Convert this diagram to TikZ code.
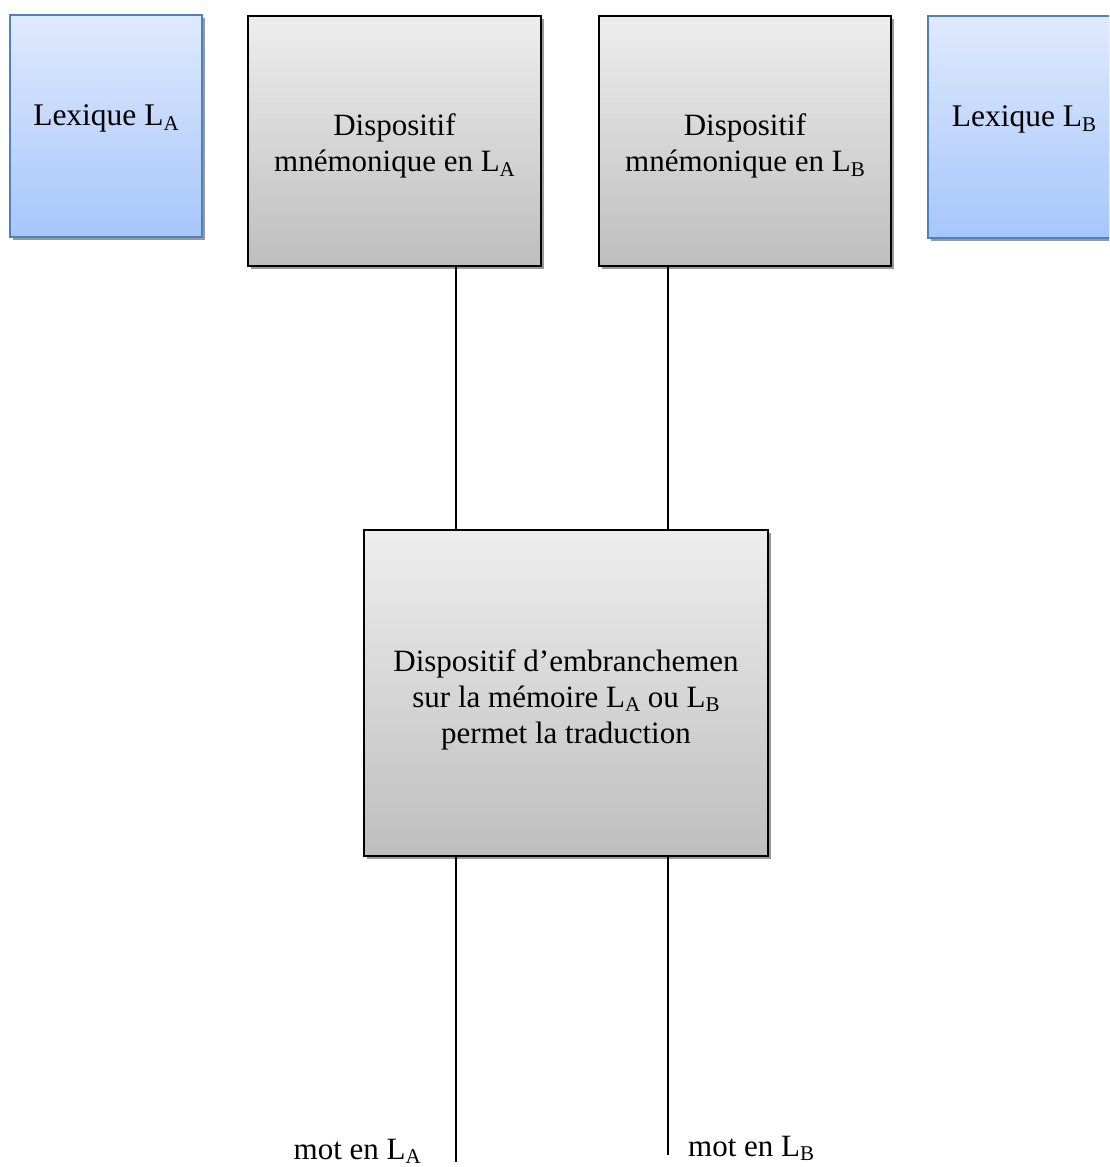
\documentclass[tikz,border=0pt]{standalone}
\usepackage{fontspec}
\setmainfont{Liberation Serif}
\usetikzlibrary{shadows}
\newcommand\lsub[1]{\raisebox{-0.13em}{\fontsize{21}{21}\selectfont #1}}
\newcommand\ctext[2]{\raisebox{#1}[0pt][0pt]{\begin{tabular}{@{}c@{}}#2\end{tabular}}}
\definecolor{bluetop}{HTML}{DFEAFD}
\definecolor{bluebot}{HTML}{A6C6FB}
\definecolor{blueline}{HTML}{4F81BD}
\definecolor{graytop}{HTML}{EEEEEE}
\definecolor{graybot}{HTML}{BEBEBE}
\tikzset{
  shad/.style={drop shadow={shadow xshift=3pt, shadow yshift=-3pt, fill=black!40, opacity=1}},
  lexbox/.style={shad, draw=blueline, line width=1.5pt, top color=bluetop, bottom color=bluebot,
    minimum width=192pt, minimum height=222pt, inner sep=0pt, align=center,
    font=\fontsize{31.5}{36}\selectfont},
  devbox/.style={shad, draw=black, line width=1.5pt, top color=graytop, bottom color=graybot,
    inner sep=0pt, align=center, font=\fontsize{31}{36}\selectfont},
  conn/.style={draw=black, line width=1.2pt},
  lbl/.style={inner sep=0pt, font=\fontsize{31}{36}\selectfont}
}
\begin{document}
\begin{tikzpicture}[x=1pt,y=-1pt]
\useasboundingbox (0,0) rectangle (1109,1167);
\clip (0,0) rectangle (1109,1167);
\node[lexbox] (lexA) at (106,126) {\ctext{1pt}{Lexique L\lsub{A}}};
\node[devbox, minimum width=293pt, minimum height=250pt] (dA) at (394.5,141)
  {\ctext{-12pt}{Dispositif\\mnémonique en L\lsub{A}}};
\node[devbox, minimum width=292pt, minimum height=250pt] (dB) at (745,141)
  {\ctext{-12pt}{Dispositif\\mnémonique en L\lsub{B}}};
\node[lexbox] (lexB) at (1024,127) {\ctext{1pt}{Lexique L\lsub{B}}};
\node[devbox, minimum width=404pt, minimum height=326pt] (C) at (566,693)
  {\ctext{-13.5pt}{Dispositif d’embranchemen\\sur la mémoire L\lsub{A} ou L\lsub{B}\\permet la traduction}};
\coordinate (pA) at (456,0);
\coordinate (pB) at (668,0);
\coordinate (endA) at (456,1162);
\coordinate (endB) at (668,1155);
\draw[conn] (dA.south -| pA) -- (C.north -| pA);
\draw[conn] (dB.south -| pB) -- (C.north -| pB);
\draw[conn] (C.south -| pA) -- (endA);
\draw[conn] (C.south -| pB) -- (endB);
\node[lbl, anchor=base east] (mA) at (421,1159) {mot en L\lsub{A}};
\node[lbl, anchor=base west] (mB) at (688,1156) {mot en L\lsub{B}};
\end{tikzpicture}
\end{document}
